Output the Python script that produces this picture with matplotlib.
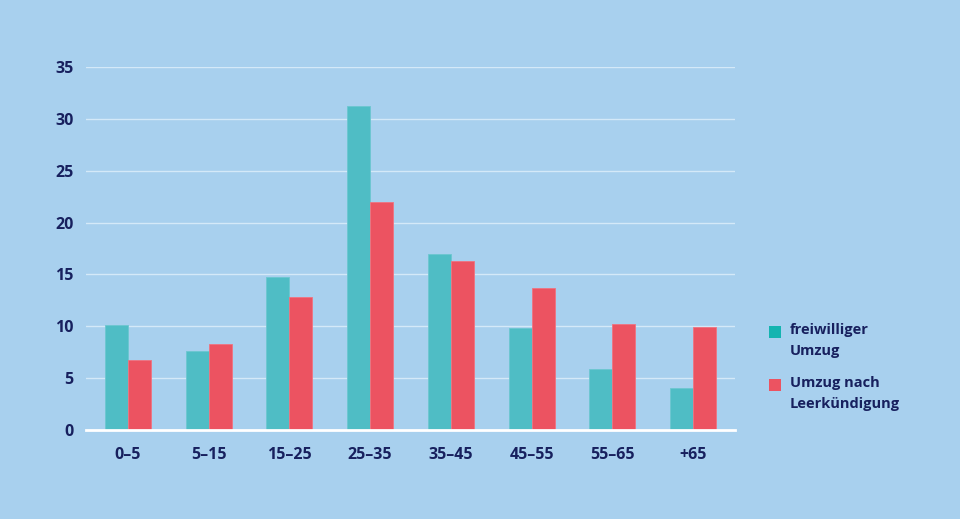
import matplotlib
matplotlib.use("Agg")
import matplotlib.pyplot as plt
from matplotlib.patches import Rectangle
import numpy as np

categories = ["0–5", "5–15", "15–25", "25–35", "35–45", "45–55", "55–65", "+65"]
freiwillig = [10.1, 7.6, 14.75, 31.25, 17.0, 9.85, 5.9, 4.05]
leerkuendigung = [6.75, 8.3, 12.8, 22.0, 16.3, 13.7, 10.2, 9.9]
series_labels = ["freiwilliger\nUmzug", "Umzug nach\nLeerkündigung"]
yticks = [0, 5, 10, 15, 20, 25, 30, 35]

BG = "#a8d0ee"
TEAL = "#4fbdc5"
TEAL_LEG = "#14b4b0"
RED = "#ec5361"
NAVY = "#17205e"
FONT = "Open Sans"

plt.rcParams['font.family'] = [FONT, 'DejaVu Sans']

fig = plt.figure(figsize=(9.6, 5.19), dpi=100, facecolor=BG)
ax = fig.add_axes([86/960, 1-430/519, (735-86)/960, (430-67)/519])
ax.set_facecolor(BG)

x = np.arange(len(categories))
w = 0.285
ax.bar(x - w/2, freiwillig, width=w, color=TEAL, edgecolor="#6cc6d0", linewidth=0.6, zorder=3)
ax.bar(x + w/2, leerkuendigung, width=w, color=RED, edgecolor="#f07380", linewidth=0.6, zorder=3)

ax.set_xlim(-0.52, len(categories) - 0.48)
ax.set_ylim(0, 35)
ax.set_yticks(yticks)
ax.set_yticklabels([str(t) for t in yticks])
ax.set_xticks(x)
ax.set_xticklabels(categories)
ax.grid(axis="y", color="#d4e9f8", linewidth=1.0, zorder=1)
ax.grid(axis="x", visible=False)
for s in ["top", "right", "left"]:
    ax.spines[s].set_visible(False)
ax.spines["bottom"].set_color("white")
ax.spines["bottom"].set_linewidth(2.0)
ax.spines["bottom"].set_zorder(4)
ax.tick_params(axis="both", length=0, colors=NAVY)
ax.tick_params(axis="y", pad=9)
ax.tick_params(axis="x", pad=12.5)
for lab in ax.get_xticklabels() + ax.get_yticklabels():
    lab.set_fontsize(11.5)
    lab.set_fontweight("bold")
    lab.set_color(NAVY)

# legend (manual)
colors = [TEAL_LEG, RED]
tops = [326, 379]
for lbl, c, t in zip(series_labels, colors, tops):
    fig.add_artist(Rectangle((769/960, 1-(t+12)/519), 12/960, 12/519,
                             transform=fig.transFigure, facecolor=c, edgecolor="none"))
    fig.text(790/960, 1-(t-3)/519, lbl, ha="left", va="top", fontsize=10.5,
             fontweight="bold", color=NAVY, linespacing=1.6)

fig.savefig("out.png", dpi=100, facecolor=BG)
